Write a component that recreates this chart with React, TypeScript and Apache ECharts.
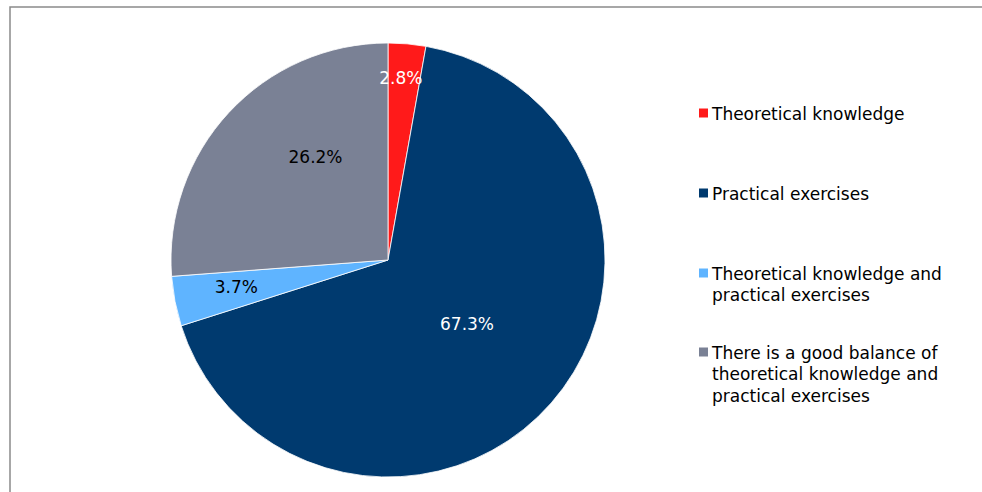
import React, { useEffect, useRef } from "react";
import * as echarts from "echarts";

const categories = [
  "Theoretical knowledge",
  "Practical exercises",
  "Theoretical knowledge and\npractical exercises",
  "There is a good balance of\ntheoretical knowledge and\npractical exercises",
];
const values = [2.8, 67.3, 3.7, 26.2];
const colors = ["#FF1A1A", "#003A6F", "#5FB4FF", "#7A8195"];
const labelColors = ["#ffffff", "#ffffff", "#000000", "#000000"];
const labelRadiusFrac = [0.84, 0.47, 0.71, 0.58];
const labelAngleShift = [-1, -2, 1, 12];

const FONT = "'DejaVu Sans', Verdana, sans-serif";
const CX = 388;
const CY = 260;
const R = 217;

export default function App() {
  const ref = useRef<HTMLDivElement>(null);
  useEffect(() => {
    if (!ref.current) return;
    const chart = echarts.init(ref.current, undefined, { renderer: "svg" });
    const total = values.reduce((a, b) => a + b, 0);
    const mids: number[] = [];
    let acc = 0;
    values.forEach((v) => {
      mids.push(((acc + v / 2) / total) * 360);
      acc += v;
    });

    const legendGraphics: any[] = [];
    const firstLineY = [113, 193, 273, 352];
    categories.forEach((c, i) => {
      legendGraphics.push({
        type: "rect",
        shape: { x: 699, y: firstLineY[i] - 4.5, width: 9, height: 9 },
        style: { fill: colors[i] },
      });
      legendGraphics.push({
        type: "text",
        x: 712,
        y: firstLineY[i] - 10,
        style: {
          text: c,
          fill: "#000",
          font: `17px ${FONT}`,
          lineHeight: 21.5,
          textVerticalAlign: "top",
        },
      });
    });

    chart.setOption({
      animation: false,
      backgroundColor: "#ffffff",
      graphic: [
        {
          type: "rect",
          shape: { x: 10, y: 7, width: 1100, height: 600 },
          style: { fill: "none", stroke: "#8a8a8a", lineWidth: 1.5 },
          silent: true,
        },
        ...legendGraphics,
      ],
      series: [
        {
          type: "pie",
          center: [CX, CY],
          radius: [0, R],
          startAngle: 90,
          clockwise: true,
          avoidLabelOverlap: false,
          itemStyle: { borderColor: "#ffffff", borderWidth: 0.8 },
          label: {
            show: true,
            position: "inside",
            fontFamily: FONT,
            fontSize: 17,
            formatter: (p: any) => `${p.value.toFixed(1)}%`,
          },
          labelLine: { show: false },
          labelLayout: (p: any) => {
            const i = p.dataIndex;
            const a = ((mids[i] + labelAngleShift[i]) * Math.PI) / 180;
            const r = R * labelRadiusFrac[i];
            return {
              x: CX + r * Math.sin(a),
              y: CY - r * Math.cos(a),
              align: "center",
              verticalAlign: "middle",
            };
          },
          data: categories.map((c, i) => ({
            name: c,
            value: values[i],
            itemStyle: { color: colors[i] },
            label: { color: labelColors[i] },
          })),
        },
      ],
    });
    return () => chart.dispose();
  }, []);
  return (
    <div
      ref={ref}
      style={{ position: "absolute", left: 0, top: 0, width: 982, height: 492 }}
    />
  );
}
